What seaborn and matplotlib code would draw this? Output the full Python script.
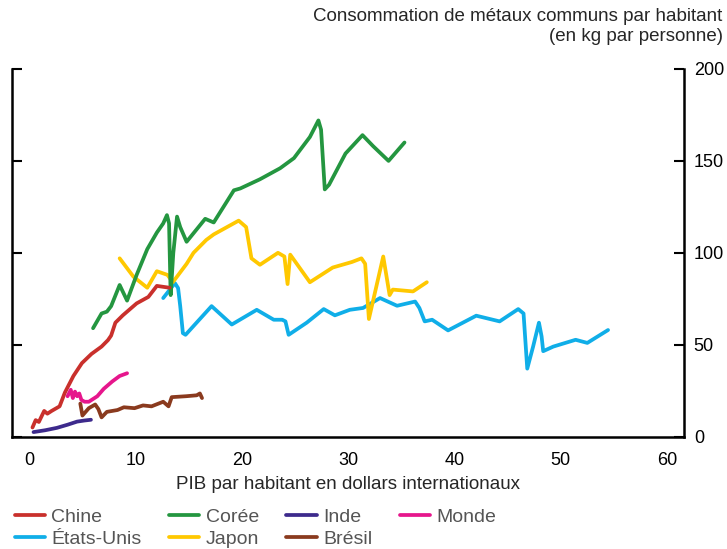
import pandas as pd
import matplotlib
matplotlib.use('Agg')
import matplotlib.pyplot as plt
import seaborn as sns
from matplotlib.lines import Line2D

# Values (x: GDP per capita, thousands; y: kg per person)
chine_x = [0.3, 0.6, 0.9, 1.4, 1.7, 2.1, 2.85, 3.35, 4.15, 4.95, 5.85, 6.8, 7.4, 7.7, 8.1, 8.8, 10.1, 11.2, 12.0, 13.2]
chine_y = [5, 9, 8, 14, 12.5, 14, 16.5, 24, 33, 40, 45, 49, 52.5, 55, 62, 66, 72.5, 76, 82, 81]

coree_x = [6.0, 6.8, 7.3, 7.7, 8.5, 9.2, 10.1, 11.1, 12.0, 12.6, 12.95, 13.15, 13.3, 13.55, 13.9, 14.2, 14.8,
           16.55, 17.35, 18.6, 19.25, 19.85, 21.7, 23.6, 24.9, 26.4, 27.2, 27.45, 27.8, 28.2, 29.75, 31.35,
           32.35, 33.8, 35.3]
coree_y = [59, 67, 68, 71, 82.5, 74, 88, 102, 111, 116, 120.5, 116, 77, 100, 119.7, 114, 106,
           118.5, 116.5, 128, 134, 135, 140, 146, 151.5, 163, 172, 167, 134.5, 137, 154, 164,
           158, 150, 160]

inde_x = [0.4, 1.5, 2.6, 3.6, 4.5, 5.2, 5.8]
inde_y = [2.5, 3.5, 4.8, 6.5, 8.2, 8.8, 9.2]

monde_x = [3.6, 3.9, 4.1, 4.3, 4.5, 4.7, 4.9, 5.2, 5.6, 6.4, 7.0, 7.8, 8.5, 9.2]
monde_y = [22, 25.5, 21, 24.5, 22, 23.5, 20, 19, 19, 22, 26, 30, 33, 34.5]

usa_x = [12.6, 13.7, 14.0, 14.2, 14.45, 14.7, 17.15, 19.05, 21.4, 23.0, 23.8, 24.1, 24.4, 26.1, 27.7, 28.75,
         30.15, 31.4, 33.0, 34.6, 36.3, 36.7, 37.2, 37.9, 39.4, 42.05, 44.25, 46.0, 46.5, 46.85, 47.4,
         47.95, 48.2, 48.35, 49.3, 51.4, 52.5, 54.45]
usa_y = [75.4, 83.5, 80.8, 71, 56.3, 55.4, 71, 61, 69, 63.6, 63.6, 62.7, 55.4, 62, 69.4, 66,
         69, 70, 75.4, 71.2, 73.5, 70, 62.7, 63.6, 57.8, 65.8, 62.7, 69.4, 67, 37, 49,
         62, 54.5, 46.5, 49, 52.7, 51, 58]

japon_x = [8.5, 9.8, 11.1, 12.0, 13.0, 13.5, 14.8, 15.45, 16.65, 17.35, 19.7, 20.4, 20.9, 21.7, 23.4, 24.0,
           24.3, 24.55, 26.4, 28.55, 30.35, 31.25, 31.6, 31.95, 33.3, 33.9, 34.2, 36.1, 37.4]
japon_y = [97, 87, 81, 90, 88, 84, 94, 100, 107, 110, 117.5, 114, 97, 93.5, 100, 98,
           83, 99, 84, 92, 95, 97, 94, 64, 98, 77, 80, 79, 84]

bresil_x = [4.8, 5.0, 5.6, 6.2, 6.5, 6.8, 7.3, 8.3, 8.9, 9.9, 10.7, 11.5, 12.6, 13.1, 13.4, 14.75, 15.75, 16.05, 16.25]
bresil_y = [18, 11.5, 15.5, 17.5, 15, 10.5, 13.5, 14.5, 16, 15.5, 17, 16.5, 19, 16.5, 21.5, 22, 22.5, 23.5, 21]

series = {
    'Chine': (chine_x, chine_y),
    'Corée': (coree_x, coree_y),
    'Inde': (inde_x, inde_y),
    'Monde': (monde_x, monde_y),
    'États-Unis': (usa_x, usa_y),
    'Japon': (japon_x, japon_y),
    'Brésil': (bresil_x, bresil_y),
}
colors = {
    'Chine': '#c9302c',
    'Corée': '#249640',
    'Inde': '#3d2a8c',
    'Monde': '#e6168c',
    'États-Unis': '#10aee8',
    'Japon': '#ffc800',
    'Brésil': '#8a3a1e',
}
# draw order (back to front)
draw_order = ['États-Unis', 'Japon', 'Corée', 'Chine', 'Brésil', 'Monde', 'Inde']

rows = []
for name, (xs, ys) in series.items():
    for i, (x, y) in enumerate(zip(xs, ys)):
        rows.append({'pays': name, 'pib': x, 'conso': y, 'i': i})
df = pd.DataFrame(rows)

sns.set_theme(style='white')
plt.rcParams['font.family'] = ['Liberation Sans', 'DejaVu Sans']

fig = plt.figure(figsize=(7.27, 5.49), dpi=100)
ax = fig.add_axes([0.0169, 0.2046, 0.924, 0.6698])

for name in draw_order:
    sub = df[df['pays'] == name].sort_values('i')
    sns.lineplot(data=sub, x='pib', y='conso', sort=False, estimator=None, color=colors[name],
                 linewidth=2.7, solid_capstyle='round', solid_joinstyle='round', ax=ax)

ax.set_xlim(-1.6, 61.6)
ax.set_ylim(0, 200)
ax.set_xticks(range(0, 61, 10))
ax.set_yticks(range(0, 201, 50))
ax.set_xlabel('PIB par habitant en dollars internationaux', fontsize=13.5, labelpad=5)
ax.set_ylabel('')

for s in ['left', 'right', 'bottom']:
    ax.spines[s].set_visible(True)
    ax.spines[s].set_color('black')
    ax.spines[s].set_linewidth(1.8)
ax.spines['top'].set_visible(False)

ax.tick_params(axis='x', direction='in', length=7, width=1.5, colors='black', labelsize=13, pad=11)
ax.tick_params(axis='y', direction='in', length=7, width=1.5, colors='black', labelsize=13,
               left=True, right=True, labelleft=False, labelright=True, pad=7)

fig.text(0.994, 0.985, 'Consommation de métaux communs par habitant\n(en kg par personne)',
         ha='right', va='top', fontsize=13.5, linespacing=1.25)

leg_order = ['Chine', 'États-Unis', 'Corée', 'Japon', 'Inde', 'Brésil', 'Monde']
handles = [Line2D([0], [0], color=colors[n], linewidth=2.7) for n in leg_order]
leg = fig.legend(handles, leg_order, loc='upper left', bbox_to_anchor=(0.02, 0.074), ncol=4,
                 frameon=False, fontsize=14, handlelength=1.55, handletextpad=0.35,
                 columnspacing=1.4, labelspacing=0.24, borderpad=0, borderaxespad=0)
for t in leg.get_texts():
    t.set_color('#555555')

fig.savefig('out.png', dpi=100)
